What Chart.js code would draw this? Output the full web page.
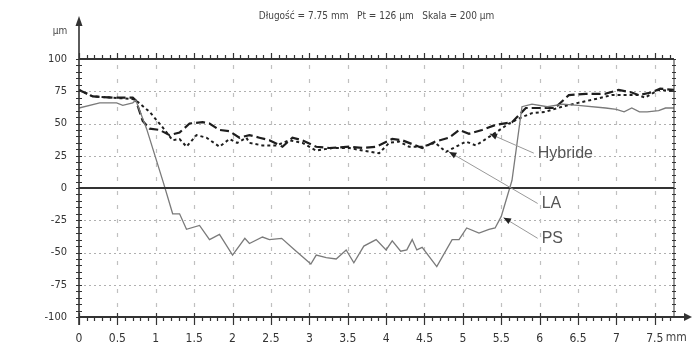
<!DOCTYPE html>
<html>
<head>
<meta charset="utf-8">
<script src="https://cdn.jsdelivr.net/npm/chart.js@4"></script>
<style>
  html, body { margin: 0; padding: 0; background: #fff; }
  #wrap { width: 692px; height: 353px; }
</style>
</head>
<body>
<div id="wrap"><canvas id="profile"></canvas></div>
<script>
"use strict";
const chartTitle = "Długość = 7.75 mm   Pt = 126 µm   Skala = 200 µm";
const yTicks = [-100, -75, -50, -25, 0, 25, 50, 75, 100];

const psX = [0, 0.27, 0.49, 0.57, 0.7, 0.74, 0.88, 1.1, 1.22, 1.31, 1.4, 1.57, 1.7, 1.83, 2.0, 2.16, 2.22, 2.39, 2.48, 2.64, 2.81, 3.02, 3.09, 3.22, 3.35, 3.48, 3.58, 3.71, 3.87, 4.0, 4.08, 4.19, 4.27, 4.34, 4.4, 4.47, 4.66, 4.86, 4.95, 5.05, 5.21, 5.34, 5.42, 5.5, 5.64, 5.77, 5.9, 6.1, 6.3, 6.5, 6.86, 7.0, 7.1, 7.2, 7.3, 7.4, 7.55, 7.64, 7.75];
const psY = [62, 66, 66, 64, 66, 68, 46, 4, -20, -20, -32, -29, -40, -36, -52, -39, -43, -38, -40, -39, -48, -59, -52, -54, -55, -48, -58, -45, -40, -48, -41, -49, -48, -40, -48, -46, -61, -40, -40, -31, -35, -32, -31, -22, 6, 63, 65, 63, 65, 64, 62, 61, 59, 62, 59, 59, 60, 62, 62];

const laX = [0, 0.18, 0.44, 0.7, 0.74, 0.83, 0.92, 1.05, 1.18, 1.31, 1.44, 1.61, 1.7, 1.83, 1.96, 2.09, 2.22, 2.35, 2.48, 2.65, 2.78, 2.91, 3.09, 3.26, 3.52, 3.7, 3.87, 4.08, 4.21, 4.34, 4.47, 4.64, 4.82, 4.95, 5.08, 5.25, 5.43, 5.64, 5.82, 6.0, 6.2, 6.38, 6.6, 6.85, 7.03, 7.2, 7.29, 7.45, 7.57, 7.75];
const laY = [76, 71, 70, 70, 68, 52, 46, 45, 41, 43, 50, 51, 50, 45, 44, 39, 41, 39, 37, 32, 39, 37, 32, 31, 32, 31, 32, 38, 37, 34, 31, 36, 39, 45, 42, 45, 49, 51, 62, 62, 62, 72, 73, 73, 76, 74, 72, 74, 77, 76];

const hyX = [0, 0.18, 0.44, 0.7, 0.74, 0.92, 1.09, 1.22, 1.31, 1.4, 1.53, 1.66, 1.83, 1.96, 2.06, 2.18, 2.22, 2.39, 2.57, 2.74, 2.91, 3.09, 3.3, 3.52, 3.7, 3.91, 4.04, 4.17, 4.3, 4.47, 4.64, 4.78, 4.91, 5.04, 5.17, 5.3, 5.43, 5.6, 5.77, 5.9, 6.07, 6.29, 6.5, 6.73, 6.94, 7.12, 7.29, 7.37, 7.55, 7.75];
const hyY = [76, 71, 70, 69, 68, 59, 47, 37, 38, 32, 41, 39, 32, 38, 35, 39, 35, 33, 33, 37, 35, 29, 31, 31, 29, 27, 35, 36, 32, 32, 35, 28, 32, 36, 33, 38, 43, 50, 55, 58, 59, 63, 66, 69, 72, 72, 72, 70, 76, 75];

// label anchors in data units: [text, arrow tip x, tip y, label x, label y]
const notes = [
    ["Hybride", 5.35, 42, 5.95, 27],
    ["LA", 4.82, 28, 6.0, -12],
    ["PS", 5.53, -23, 6.0, -39],
];

const toPoints = (xs, ys) => xs.map((x, i) => ({ x: x, y: ys[i] }));
const narrow = "'Liberation Sans Narrow', 'DejaVu Sans Condensed', 'Liberation Sans', sans-serif";

const framePlugin = {
    id: "frame",
    beforeDatasetsDraw(chart) {
        const { ctx, chartArea: a, scales: { x, y } } = chart;
        ctx.save();
        ctx.lineWidth = 1.2;
        ctx.strokeStyle = "#b0b0b0";
        ctx.setLineDash([2, 3]);
        [75, 50, 25, -25, -50, -75].forEach((v) => {
            const py = Math.round(y.getPixelForValue(v)) + 0.5;
            ctx.beginPath();
            ctx.moveTo(a.left, py);
            ctx.lineTo(a.right, py);
            ctx.stroke();
        });
        ctx.strokeStyle = "#c0c0c0";
        ctx.setLineDash([4, 10]);
        for (let v = 0.5; v <= 7.5; v += 0.5) {
            const px = Math.round(x.getPixelForValue(v)) + 0.5;
            ctx.beginPath();
            ctx.moveTo(px, a.top + 6);
            ctx.lineTo(px, a.bottom);
            ctx.stroke();
        }
        ctx.restore();
    },
    afterDatasetsDraw(chart) {
        const { ctx, chartArea: a, scales: { x, y } } = chart;
        ctx.save();
        ctx.setLineDash([]);
        ctx.strokeStyle = "#333";
        ctx.fillStyle = "#333";

        // solid lines at 100, 0, -100
        ctx.lineWidth = 2.2;
        [100, 0, -100].forEach((v) => {
            const py = y.getPixelForValue(v);
            ctx.beginPath();
            ctx.moveTo(a.left, py);
            ctx.lineTo(v === -100 ? 688 : a.right, py);
            ctx.stroke();
        });
        // x arrow
        const by = y.getPixelForValue(-100);
        ctx.beginPath();
        ctx.moveTo(692, by);
        ctx.lineTo(684, by - 4);
        ctx.lineTo(684, by + 4);
        ctx.closePath();
        ctx.fill();

        // y axis with arrow
        const lx = x.getPixelForValue(0);
        ctx.lineWidth = 1.6;
        ctx.beginPath();
        ctx.moveTo(lx, by + 8);
        ctx.lineTo(lx, 22);
        ctx.stroke();
        ctx.beginPath();
        ctx.moveTo(lx, 16);
        ctx.lineTo(lx - 3.5, 26);
        ctx.lineTo(lx + 3.5, 26);
        ctx.closePath();
        ctx.fill();

        // right border (ticked)
        const rx = x.getPixelForValue(7.75);
        ctx.lineWidth = 1;
        ctx.beginPath();
        ctx.moveTo(rx, a.top);
        ctx.lineTo(rx, a.bottom);
        ctx.stroke();

        // minor ticks
        ctx.lineWidth = 1.2;
        const ty = y.getPixelForValue(100);
        for (let i = 0; i <= 77; i++) {
            const px = Math.round(x.getPixelForValue(i / 10)) + 0.5;
            const major = i % 5 === 0;
            ctx.beginPath();
            ctx.moveTo(px, ty);
            ctx.lineTo(px, ty - (major ? 6 : 4));
            ctx.moveTo(px, by);
            ctx.lineTo(px, by + (major ? 8 : 4));
            if (major) ctx.lineTo(px, by - 4);
            ctx.stroke();
        }
        for (let v = -100; v <= 100; v += 5) {
            const py = Math.round(y.getPixelForValue(v)) + 0.5;
            ctx.beginPath();
            ctx.moveTo(lx - 3, py);
            ctx.lineTo(lx + 3, py);
            ctx.moveTo(rx - 2, py);
            ctx.lineTo(rx + 2, py);
            ctx.stroke();
        }

        // annotations
        ctx.font = "16px 'Liberation Sans', Arial, sans-serif";
        ctx.textBaseline = "middle";
        notes.forEach(([text, ax, ay, tx, ty2]) => {
            const x0 = x.getPixelForValue(ax), y0 = y.getPixelForValue(ay);
            const x1 = x.getPixelForValue(tx), y1 = y.getPixelForValue(ty2);
            ctx.strokeStyle = "#999";
            ctx.lineWidth = 1;
            ctx.beginPath();
            ctx.moveTo(x0, y0);
            ctx.lineTo(x1 - 2, y1);
            ctx.stroke();
            const ang = Math.atan2(y1 - y0, x1 - x0);
            ctx.fillStyle = "#222";
            ctx.beginPath();
            ctx.moveTo(x0, y0);
            ctx.lineTo(x0 + 8 * Math.cos(ang - 0.4), y0 + 8 * Math.sin(ang - 0.4));
            ctx.lineTo(x0 + 8 * Math.cos(ang + 0.4), y0 + 8 * Math.sin(ang + 0.4));
            ctx.closePath();
            ctx.fill();
            ctx.fillStyle = "#555";
            ctx.textAlign = "left";
            ctx.fillText(text, x1 + 2, y1);
        });

        // texts
        ctx.font = "10px " + narrow;
        ctx.fillStyle = "#444";
        ctx.textAlign = "center";
        ctx.fillText(chartTitle, (a.left + a.right) / 2, 16);
        ctx.fillText("µm", lx - 19, 31);
        ctx.font = "12px " + narrow;
        ctx.textAlign = "left";
        ctx.fillText("mm", x.getPixelForValue(7.5) + 11, 338);
        ctx.restore();
    },
};

const profileData = {
    datasets: [
        { label: "PS", data: toPoints(psX, psY), borderColor: "#7a7a7a", borderWidth: 1.3 },
        { label: "LA", data: toPoints(laX, laY), borderColor: "#1e1e1e", borderWidth: 2.2, borderDash: [9, 4] },
        { label: "Hybride", data: toPoints(hyX, hyY), borderColor: "#1e1e1e", borderWidth: 2, borderDash: [3, 3] },
    ],
};

const profileConfig = {
    type: "line",
    data: profileData,
    options: {
        responsive: false,
        animation: false,
        layout: { padding: { top: 59, right: 18, left: 0, bottom: 0 } },
        elements: { point: { radius: 0 }, line: { tension: 0, fill: false } },
        plugins: {
            legend: { display: false },
            title: { display: false },
            tooltip: { enabled: false },
        },
        scales: {
            x: {
                type: "linear",
                min: 0,
                max: 7.75,
                grid: { display: false },
                border: { display: false },
                ticks: {
                    stepSize: 0.5,
                    includeBounds: false,
                    maxRotation: 0,
                    autoSkip: false,
                    padding: 7,
                    color: "#333",
                    font: { size: 12, family: narrow },
                    callback: (v) => String(v),
                },
                afterFit: (s) => { s.height = 36; },
            },
            y: {
                min: -100,
                max: 100,
                afterBuildTicks: (s) => { s.ticks = yTicks.map((v) => ({ value: v })); },
                grid: { display: false },
                border: { display: false },
                ticks: {
                    padding: 4,
                    color: "#333",
                    font: { size: 11, family: narrow },
                },
                afterFit: (s) => { s.width = 79; },
            },
        },
    },
    plugins: [framePlugin],
};

const canvas = document.getElementById("profile");
canvas.width = 692;
canvas.height = 353;
const profileChart = new Chart(canvas, profileConfig);
</script>
</body>
</html>
